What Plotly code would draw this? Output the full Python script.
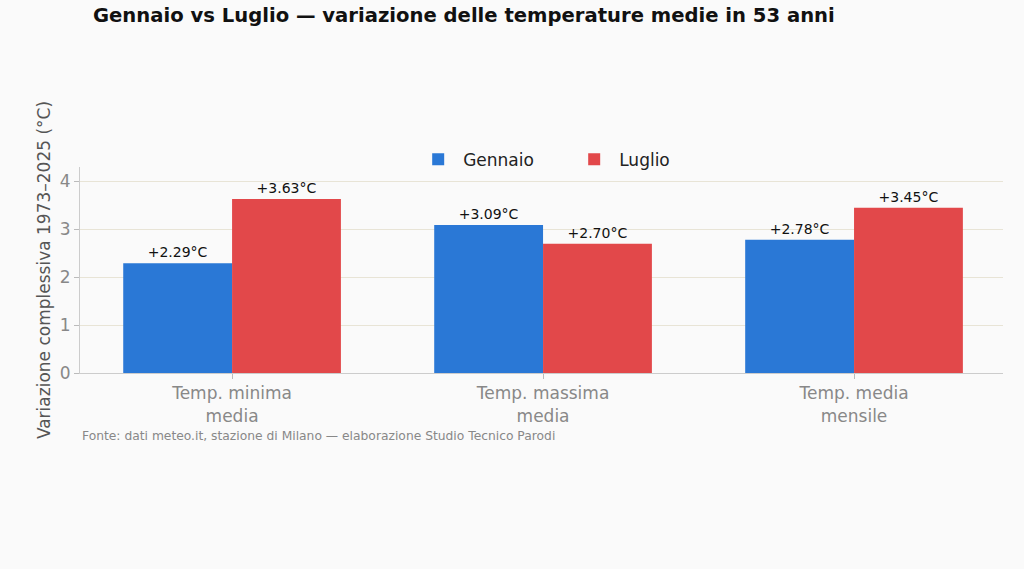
import plotly.graph_objects as go

categories = ["Temp. minima<br>media", "Temp. massima<br>media", "Temp. media<br>mensile"]
gennaio = [2.29, 3.09, 2.78]
luglio = [3.63, 2.70, 3.45]
y_ticks = [0, 1, 2, 3, 4]

BLUE = "#2a78d6"
RED = "#e2484a"
BG = "#fafafa"
FONT = "DejaVu Sans"


def labels(vals):
    return [f"+{v:.2f}°C" for v in vals]


fig = go.Figure()
for name, vals, col in [("Gennaio", gennaio, BLUE), ("Luglio", luglio, RED)]:
    fig.add_trace(go.Bar(
        x=categories, y=vals, name=name, marker_color=col, marker_line_width=0,
        text=labels(vals), textposition="outside", cliponaxis=False,
        textfont=dict(size=14, color="#111", family=FONT),
    ))

fig.update_layout(
    width=1024, height=569,
    paper_bgcolor=BG, plot_bgcolor=BG,
    font=dict(family=FONT),
    barmode="group", bargap=0.3, bargroupgap=0,
    margin=dict(l=80, r=21, t=167, b=196),
    title=dict(
        text="<b>Gennaio vs Luglio — variazione delle temperature medie in 53 anni</b>",
        x=93 / 1024, xanchor="left", xref="container",
        y=1 - 15 / 569, yanchor="middle", yref="container",
        font=dict(size=19.6, color="#111"),
    ),
    legend=dict(
        orientation="h", x=0.53, xanchor="center", y=1.035, yanchor="middle",
        font=dict(size=17, color="#222"), bgcolor="rgba(0,0,0,0)",
        itemwidth=40, entrywidth=101,
    ),
    showlegend=True,
)

fig.update_xaxes(
    range=[-0.489, 2.479], showgrid=False,
    showline=True, linecolor="#cccccc", linewidth=1,
    ticks="outside", ticklen=5, tickcolor="#bbbbbb",
    tickfont=dict(size=17, color="#888888"),
)
fig.update_yaxes(
    range=[0, 4.3], tickvals=y_ticks,
    showgrid=True, gridcolor="#e8e4d6", gridwidth=1, zeroline=False,
    showline=True, linecolor="#cccccc", linewidth=1,
    ticks="outside", ticklen=5, tickcolor="#bbbbbb",
    tickfont=dict(size=17, color="#888888"),
    title=dict(text="Variazione complessiva 1973–2025 (°C)", font=dict(size=17, color="#555555"), standoff=4),
)

fig.add_annotation(
    text="Fonte: dati meteo.it, stazione di Milano — elaborazione Studio Tecnico Parodi",
    xref="paper", yref="paper", x=0, y=-0.306, xanchor="left", yanchor="middle",
    showarrow=False, font=dict(size=12.3, color="#888888"),
)

fig.write_html(
    "out.html",
    config={"displayModeBar": False},
    post_script="document.body.style.margin='0';document.body.style.background='#fafafa';",
)
